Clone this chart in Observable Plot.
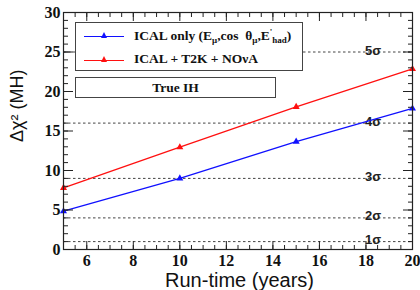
<!DOCTYPE html>
<html><head><meta charset="utf-8">
<script src="https://cdn.jsdelivr.net/npm/d3@7"></script>
<script src="https://cdn.jsdelivr.net/npm/@observablehq/plot@0.6"></script>
<style>
body{margin:0;background:#fff;}
#wrap{position:relative;width:420px;height:290px;}
.box{position:absolute;background:#fff;border:1px solid #444;font-family:"Liberation Serif",serif;font-weight:bold;font-size:13.5px;color:#111;}
.ent{position:absolute;left:8px;height:14px;}
.ent .ln{position:absolute;left:0;top:7px;width:40px;height:0;border-top:1.3px solid;}
.ent .tri{position:absolute;left:17px;top:3px;width:0;height:0;border-left:3px solid transparent;border-right:3px solid transparent;border-bottom:6px solid;}
.ent .tx{position:absolute;left:50px;top:-2px;white-space:nowrap;}
sub{font-size:9px;vertical-align:-3px;}
</style></head>
<body><div id="wrap"></div>
<script>
const years = [5, 10, 15, 20];
const icalOnly = [4.85, 9.0, 13.65, 17.85];
const icalT2kNova = [7.8, 12.95, 18.05, 22.85];
const sigmaLevels = [1, 4, 9, 16, 25];
const sigmaLabels = ["1σ", "2σ", "3σ", "4σ", "5σ"];
const xMajorTicks = [6, 8, 10, 12, 14, 16, 18, 20];
const xMinorTicks = d3.range(5, 20.001, 0.5);
const yMajorTicks = [0, 5, 10, 15, 20, 25, 30];
const yMinorTicks = d3.range(0, 30.001, 1);

const blueData = years.map((y, i) => ({year: y, v: icalOnly[i]}));
const redData = years.map((y, i) => ({year: y, v: icalT2kNova[i]}));
const sig = sigmaLevels.map((s, i) => ({s, label: sigmaLabels[i]}));

const tickFont = {fontFamily: "Liberation Serif", fontWeight: "bold", fontSize: 16, fill: "#111"};

const chart = Plot.plot({
  width: 420, height: 290,
  marginLeft: 63, marginRight: 8, marginTop: 12, marginBottom: 41,
  x: {domain: [5, 20], axis: null},
  y: {domain: [0, 30], axis: null},
  style: {background: "#fff", overflow: "visible"},
  marks: [
    Plot.ruleY(sig, {y: "s", stroke: "#444", strokeWidth: 1, strokeDasharray: "2.5,2.5"}),
    Plot.text(sig, {x: 18, y: "s", text: "label", textAnchor: "start", lineAnchor: "bottom", dy: 2.5, dx: -1,
      fontFamily: "Liberation Sans", fontWeight: "bold", fontSize: 13, fill: "#222"}),
    Plot.line(blueData, {x: "year", y: "v", stroke: "#1010ff", strokeWidth: 1.3}),
    Plot.dot(blueData, {x: "year", y: "v", symbol: "triangle", r: 2.6, fill: "#1010ff"}),
    Plot.line(redData, {x: "year", y: "v", stroke: "#ff1010", strokeWidth: 1.3}),
    Plot.dot(redData, {x: "year", y: "v", symbol: "triangle", r: 2.6, fill: "#ff1010"}),
    Plot.frame({stroke: "#222", strokeWidth: 1.2}),
    Plot.axisX(xMinorTicks, {anchor: "bottom", tickSize: -4, text: null, label: null, stroke: "#222"}),
    Plot.axisX(xMajorTicks, {anchor: "bottom", tickSize: -8, text: null, label: null, stroke: "#222"}),
    Plot.axisX(xMinorTicks, {anchor: "top", tickSize: -4, text: null, label: null, stroke: "#222"}),
    Plot.axisX(xMajorTicks, {anchor: "top", tickSize: -8, text: null, label: null, stroke: "#222"}),
    Plot.axisY(yMinorTicks, {anchor: "left", tickSize: -5, text: null, label: null, stroke: "#222"}),
    Plot.axisY(yMajorTicks, {anchor: "left", tickSize: -10, text: null, label: null, stroke: "#222"}),
    Plot.axisY(yMinorTicks, {anchor: "right", tickSize: -5, text: null, label: null, stroke: "#222"}),
    Plot.axisY(yMajorTicks, {anchor: "right", tickSize: -10, text: null, label: null, stroke: "#222"}),
    Plot.text(xMajorTicks, {x: d => d, frameAnchor: "bottom", lineAnchor: "top", dy: 5, text: d => String(d), ...tickFont}),
    Plot.text(yMajorTicks, {y: d => d, frameAnchor: "left", textAnchor: "end", dx: -3, text: d => String(d), ...tickFont}),
    Plot.text(["Run-time (years)"], {frameAnchor: "bottom", lineAnchor: "bottom", dy: 37, dx: 1.5, fontFamily: "Liberation Sans", fontSize: 20, fill: "#111"}),
    Plot.text(["Δχ² (MH)"], {frameAnchor: "left", dx: -46, dy: 11, rotate: -90, fontFamily: "Liberation Sans", fontSize: 18, fill: "#111"})
  ]
});
const wrap = document.getElementById("wrap");
wrap.appendChild(chart);

const legend = document.createElement("div");
legend.className = "box";
Object.assign(legend.style, {left: "75px", top: "22px", width: "226px", height: "47px"});
legend.innerHTML = `
 <div class="ent" style="top:6px"><div class="ln" style="border-color:#1010ff"></div><div class="tri" style="border-bottom-color:#1010ff"></div>
   <div class="tx">ICAL only (E<sub>μ</sub>,cos &nbsp;θ<sub>μ</sub>,E<span style="font-size:9px;vertical-align:5px">'</span><sub>had</sub>)</div></div>
 <div class="ent" style="top:30px"><div class="ln" style="border-color:#ff1010"></div><div class="tri" style="border-bottom-color:#ff1010"></div>
   <div class="tx">ICAL + T2K + NOνA</div></div>`;
wrap.appendChild(legend);

const ih = document.createElement("div");
ih.className = "box";
Object.assign(ih.style, {left: "75px", top: "77px", width: "199px", height: "19px", textAlign: "center", lineHeight: "19px"});
ih.textContent = "True IH";
wrap.appendChild(ih);
</script>
</body></html>
